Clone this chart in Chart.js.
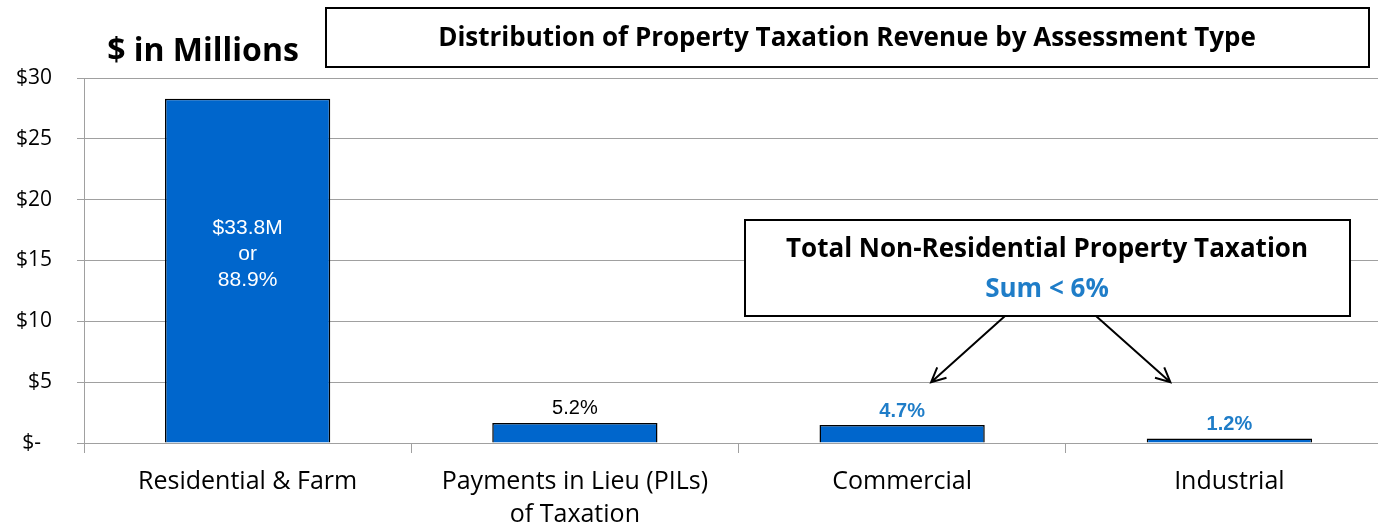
<!DOCTYPE html>
<html>
<head>
<meta charset="utf-8">
<script src="https://cdn.jsdelivr.net/npm/chart.js@4"></script>
<style>
  body { margin: 0; overflow: hidden; background: #fff; }
  #wrap { width: 1395px; height: 528px; }
</style>
</head>
<body>
<div id="wrap"><canvas id="taxChart"></canvas></div>
<script>
// categories along the x-axis
var categories = [
  ['Residential & Farm'],
  ['Payments in Lieu (PILs)', 'of Taxation'],
  ['Commercial'],
  ['Industrial']
];
// revenue, $ in millions
var revenue = [28.3, 1.65, 1.48, 0.38];
// labels shown with each bar
var shareLabels = [['$33.8M', 'or', '88.9%'], ['5.2%'], ['4.7%'], ['1.2%']];
var yTicks = [0, 5, 10, 15, 20, 25, 30];

var FONT = "'Open Sans', Lato, sans-serif";
var ARIAL = "'Liberation Sans', Arial, sans-serif";
var BLUE_TXT = '#1F7DC8';

// draws the share labels, title box and the callout
var extras = {
  id: 'extras',
  afterDatasetsDraw: function(chart) {
    var ctx = chart.ctx;
    var meta = chart.getDatasetMeta(0);
    ctx.save();
    ctx.textAlign = 'center';
    ctx.textBaseline = 'middle';

    meta.data.forEach(function(bar, i) {
      var lines = shareLabels[i];
      if (i === 0) {
        ctx.fillStyle = '#fff';
        ctx.font = '21px ' + ARIAL;
        lines.forEach(function(t, k) { ctx.fillText(t, bar.x, 228 + k * 26); });
      } else if (i === 1) {
        ctx.fillStyle = '#000';
        ctx.font = '20px ' + ARIAL;
        ctx.fillText(lines[0], bar.x, bar.y - 14);
      } else {
        ctx.fillStyle = BLUE_TXT;
        ctx.font = 'bold 20px ' + ARIAL;
        ctx.fillText(lines[0], bar.x, bar.y - 14);
      }
    });

    // y-axis unit label
    ctx.fillStyle = '#000';
    ctx.font = 'bold 32px ' + FONT;
    ctx.fillText('$ in Millions', 203, 52);

    // title box
    ctx.fillStyle = '#fff';
    ctx.fillRect(326, 8, 1043, 59);
    ctx.strokeStyle = '#000';
    ctx.lineWidth = 2;
    ctx.strokeRect(326, 8, 1043, 59);
    ctx.fillStyle = '#000';
    ctx.font = 'bold 26px ' + FONT;
    ctx.fillText('Distribution of Property Taxation Revenue by Assessment Type', 847, 39);

    // callout box
    ctx.fillStyle = '#fff';
    ctx.fillRect(745, 220, 605, 96);
    ctx.strokeRect(745, 220, 605, 96);
    ctx.fillStyle = '#000';
    ctx.font = 'bold 26px ' + FONT;
    ctx.fillText('Total Non-Residential Property Taxation', 1047, 250);
    ctx.fillStyle = BLUE_TXT;
    ctx.fillText('Sum < 6%', 1047, 290);

    // arrows towards commercial and industrial
    var x = chart.scales.x, y = chart.scales.y;
    var tipY = y.getPixelForValue(5);
    drawArrow(ctx, 1005, 316, x.getPixelForValue(2) + 29, tipY);
    drawArrow(ctx, 1096, 316, x.getPixelForValue(3) - 59, tipY);
    ctx.restore();
  }
};

function drawArrow(ctx, x1, y1, x2, y2) {
  var a = Math.atan2(y2 - y1, x2 - x1);
  var h = 16;
  ctx.strokeStyle = '#000';
  ctx.lineWidth = 2;
  ctx.beginPath();
  ctx.moveTo(x1, y1);
  ctx.lineTo(x2, y2);
  ctx.moveTo(x2 - h * Math.cos(a - 0.45), y2 - h * Math.sin(a - 0.45));
  ctx.lineTo(x2, y2);
  ctx.lineTo(x2 - h * Math.cos(a + 0.45), y2 - h * Math.sin(a + 0.45));
  ctx.stroke();
}

var ctx = document.getElementById('taxChart');
var taxChart = new Chart(ctx, {
  type: 'bar',
  data: {
    labels: categories,
    datasets: [
      {
        data: revenue,
        backgroundColor: '#0066CC',
        borderColor: '#000',
        borderWidth: 1.5,
        categoryPercentage: 1,
        barPercentage: 0.505
      }
    ]
  },
  options: {
    responsive: true,
    maintainAspectRatio: false,
    animation: false,
    layout: { padding: { top: 78, right: 2, left: 0, bottom: 0 } },
    plugins: { legend: { display: false }, tooltip: { enabled: false } },
    scales: {
      x: {
        grid: { drawOnChartArea: false, drawTicks: true, tickLength: 10, color: '#A0A0A0', offset: true },
        border: { color: '#A0A0A0' },
        ticks: {
          color: '#000',
          font: { family: FONT, size: 25, lineHeight: 1.32 },
          padding: 12,
          maxRotation: 0,
          autoSkip: false
        },
        afterFit: function(s) { s.height = 85; }
      },
      y: {
        min: 0,
        max: 30,
        afterBuildTicks: function(s) { s.ticks = yTicks.map(function(v) { return { value: v }; }); },
        grid: { color: '#A0A0A0', tickLength: 7 },
        border: { color: '#A0A0A0' },
        ticks: {
          color: '#000',
          padding: 25,
          font: { family: FONT, size: 21 },
          callback: function(v) { return v === 0 ? '$-  ' : '$' + v; }
        },
        afterFit: function(s) { s.width = 84; }
      }
    }
  },
  plugins: [extras]
});
</script>
</body>
</html>
